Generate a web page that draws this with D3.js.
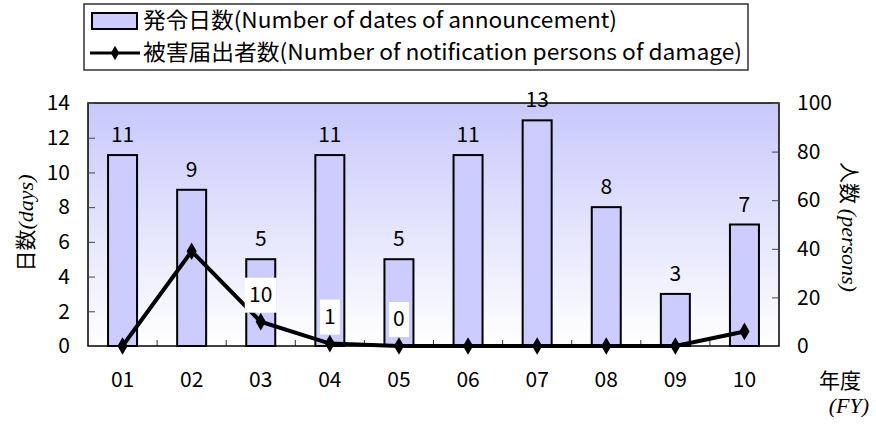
<!DOCTYPE html>
<html>
<head>
<script src="https://cdn.jsdelivr.net/npm/d3@7"></script>
<meta charset="utf-8">
<style>
body {
  margin: 0;
  background: white;
  font-family: "Noto Sans CJK JP", sans-serif;
}
.chart text { fill: black; }
</style>
</head>
<body>
<div class="chart"></div>

<script>

// chart data
var years = ["01", "02", "03", "04", "05", "06", "07", "08", "09", "10"];
var days = [11, 9, 5, 11, 5, 11, 13, 8, 3, 7];
var persons = [0, 39, 10, 1, 0, 0, 0, 0, 0, 6];
var personLabels = [null, null, "10", "1", "0", null, null, null, null, null];
var dayTicks = [0, 2, 4, 6, 8, 10, 12, 14];
var personTicks = [0, 20, 40, 60, 80, 100];

var width = 876,
    height = 426,
    pLeft = 88, pRight = 779, pTop = 103, pBottom = 346,
    fs = 21;

var svg = d3.select(".chart")
  .append("svg")
  .attr("width", width)
  .attr("height", height);

// gradient for plot area
var grad = svg.append("defs").append("linearGradient")
  .attr("id", "bg").attr("x1", 0).attr("y1", 0).attr("x2", 0).attr("y2", 1);
grad.append("stop").attr("offset", "0%").attr("stop-color", "#c8c8fc");
grad.append("stop").attr("offset", "100%").attr("stop-color", "#ffffff");

var x = d3.scaleBand().domain(years).range([pLeft, pRight]);
var yL = d3.scaleLinear().domain([0, 14]).range([pBottom, pTop]);
var yR = d3.scaleLinear().domain([0, 100]).range([pBottom, pTop]);

svg.append("rect")
  .attr("x", pLeft).attr("y", pTop)
  .attr("width", pRight - pLeft).attr("height", pBottom - pTop)
  .attr("fill", "url(#bg)");

// category ticks (inward)
svg.append("g").selectAll("line")
  .data(years.slice(1))
  .enter().append("line")
  .attr("x1", function(d) { return x(d); })
  .attr("x2", function(d) { return x(d); })
  .attr("y1", pBottom).attr("y2", pBottom - 6)
  .attr("stroke", "#333").attr("stroke-width", 1);

// bars
var barW = 29;
svg.append("g").selectAll("rect")
  .data(days)
  .enter().append("rect")
  .attr("x", function(d, i) { return x(years[i]) + x.bandwidth() / 2 - barW / 2; })
  .attr("y", function(d) { return yL(d); })
  .attr("width", barW)
  .attr("height", function(d) { return pBottom - yL(d); })
  .attr("fill", "#ccccff")
  .attr("stroke", "black")
  .attr("stroke-width", 2);

// frame
svg.append("rect")
  .attr("x", pLeft).attr("y", pTop)
  .attr("width", pRight - pLeft).attr("height", pBottom - pTop)
  .attr("fill", "none").attr("stroke", "black").attr("stroke-width", 1.5);

// left axis
var axL = svg.append("g").attr("transform", "translate(" + pLeft + ",0)")
  .call(d3.axisLeft(yL).tickValues(dayTicks).tickSizeInner(-7).tickSizeOuter(0).tickPadding(18));
axL.select(".domain").remove();
axL.selectAll("line").attr("stroke", "#444");
axL.selectAll("text").attr("font-size", fs).attr("font-family", "Noto Sans CJK JP, sans-serif");

// right axis
var axR = svg.append("g").attr("transform", "translate(" + pRight + ",0)")
  .call(d3.axisRight(yR).tickValues(personTicks).tickSizeInner(-7).tickSizeOuter(0).tickPadding(18));
axR.select(".domain").remove();
axR.selectAll("line").attr("stroke", "#444");
axR.selectAll("text").attr("font-size", fs).attr("font-family", "Noto Sans CJK JP, sans-serif");

// x labels
svg.append("g").selectAll("text")
  .data(years)
  .enter().append("text")
  .attr("x", function(d) { return x(d) + x.bandwidth() / 2; })
  .attr("y", 387)
  .attr("text-anchor", "middle")
  .attr("font-size", fs)
  .text(function(d) { return d; });

// bar value labels
svg.append("g").selectAll("text")
  .data(days)
  .enter().append("text")
  .attr("x", function(d, i) { return x(years[i]) + x.bandwidth() / 2; })
  .attr("y", function(d) { return yL(d) - 13; })
  .attr("text-anchor", "middle")
  .attr("font-size", fs)
  .text(function(d) { return d; });

// line
var line = d3.line()
  .x(function(d, i) { return x(years[i]) + x.bandwidth() / 2; })
  .y(function(d) { return yR(d); });

svg.append("path")
  .datum(persons)
  .attr("d", line)
  .attr("fill", "none")
  .attr("stroke", "black")
  .attr("stroke-width", 4);

svg.append("g").selectAll("path")
  .data(persons)
  .enter().append("path")
  .attr("d", d3.symbol().type(d3.symbolDiamond).size(90))
  .attr("transform", function(d, i) {
    return "translate(" + (x(years[i]) + x.bandwidth() / 2) + "," + yR(d) + ")";
  })
  .attr("fill", "black");

// line value labels with white boxes
var lab = svg.append("g").selectAll("g")
  .data(persons.map(function(d, i) { return {v: d, t: personLabels[i], i: i}; })
    .filter(function(d) { return d.t !== null; }))
  .enter().append("g")
  .attr("transform", function(d) {
    return "translate(" + (x(years[d.i]) + x.bandwidth() / 2) + "," + (yR(d.v) - 27) + ")";
  });
lab.append("rect")
  .attr("x", function(d) { return -(d.t.length * 6 + 4); })
  .attr("width", function(d) { return d.t.length * 12 + 8; })
  .attr("y", -17).attr("height", 35)
  .attr("fill", "white");
lab.append("text")
  .attr("text-anchor", "middle")
  .attr("dy", "0.35em")
  .attr("font-size", fs)
  .text(function(d) { return d.t; });

// axis titles
var tl = svg.append("text")
  .attr("transform", "translate(33,223) rotate(-90)")
  .attr("text-anchor", "middle")
  .attr("font-size", fs);
tl.append("tspan").text("日数");
tl.append("tspan").attr("font-family", "Liberation Serif, serif").attr("font-style", "italic").attr("font-size", 22).text("(days)");

var tr = svg.append("text")
  .attr("transform", "translate(842,227) rotate(90)")
  .attr("text-anchor", "middle")
  .attr("font-size", fs);
tr.append("tspan").text("人数 ");
tr.append("tspan").attr("font-family", "Liberation Serif, serif").attr("font-style", "italic").attr("font-size", 22).text("(persons)");

svg.append("text")
  .attr("x", 840).attr("y", 388)
  .attr("text-anchor", "middle")
  .attr("font-size", fs)
  .text("年度");
svg.append("text")
  .attr("x", 869).attr("y", 413)
  .attr("text-anchor", "end")
  .attr("font-family", "Liberation Serif, serif")
  .attr("font-style", "italic")
  .attr("font-size", 22)
  .text("(FY)");

// legend
var leg = svg.append("g");
leg.append("rect")
  .attr("x", 84).attr("y", 4).attr("width", 664).attr("height", 66)
  .attr("fill", "white").attr("stroke", "#333").attr("stroke-width", 1.5);
leg.append("rect")
  .attr("x", 92).attr("y", 13).attr("width", 45).attr("height", 16)
  .attr("fill", "#ccccff").attr("stroke", "black").attr("stroke-width", 2);
leg.append("text")
  .attr("x", 143).attr("y", 28)
  .attr("font-size", 22)
  .attr("textLength", 474).attr("lengthAdjust", "spacingAndGlyphs")
  .text("発令日数(Number of dates of announcement)");
leg.append("line")
  .attr("x1", 90).attr("x2", 140).attr("y1", 53).attr("y2", 53)
  .attr("stroke", "black").attr("stroke-width", 3);
leg.append("path")
  .attr("d", d3.symbol().type(d3.symbolDiamond).size(60))
  .attr("transform", "translate(115,53)");
leg.append("text")
  .attr("x", 143).attr("y", 60)
  .attr("font-size", 22)
  .attr("textLength", 599).attr("lengthAdjust", "spacingAndGlyphs")
  .text("被害届出者数(Number of notification persons of damage)");

</script>
</body>
</html>
